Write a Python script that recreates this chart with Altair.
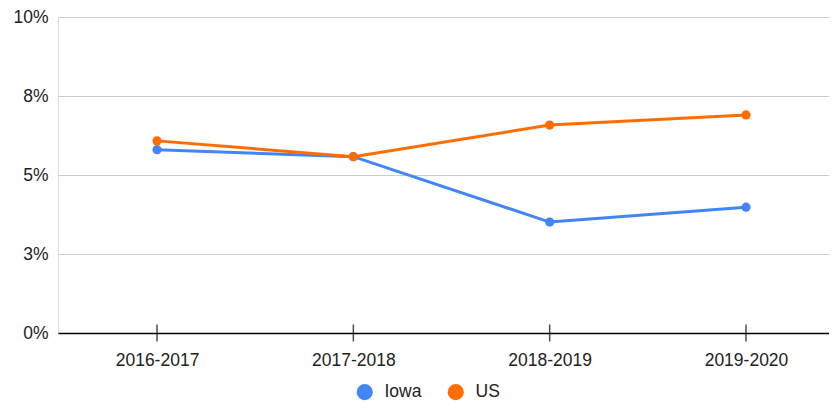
import altair as alt
import pandas as pd

years = ["2016-2017", "2017-2018", "2018-2019", "2019-2020"]
iowa = [5.80, 5.58, 3.51, 3.98]
us = [6.08, 5.58, 6.58, 6.90]
series = ["Iowa", "US"]
colors = ["#4285F4", "#FF6D01"]
y_ticks = [0, 2.5, 5, 7.5, 10]

rows = []
for name, vals in zip(series, [iowa, us]):
    for yr, v in zip(years, vals):
        rows.append({"year": yr, "series": name, "value": v})
df = pd.DataFrame(rows)
base_df = pd.DataFrame({"year": years, "value": [0] * len(years)})

FONT = "Liberation Sans"
FS = 17.5

x_scale = alt.Scale(type="point", padding=0.4636, align=0.544)
x_enc = alt.X(
    "year:O",
    sort=years,
    scale=x_scale,
    axis=alt.Axis(
        title=None, labelAngle=0, ticks=False, domainColor="#000000",
        domainWidth=1.5, labelPadding=18, labelFontSize=FS, labelColor="#222222",
        labelFont=FONT, grid=False,
    ),
)
y_scale = alt.Scale(domain=[0, 10], nice=False)
y_enc = alt.Y(
    "value:Q",
    scale=y_scale,
    axis=alt.Axis(
        title=None, values=y_ticks, ticks=False, domain=False,
        labelExpr="format(round(datum.value), 'd') + '%'",
        labelPadding=10, labelFontSize=FS, labelColor="#222222", labelFont=FONT,
        gridColor="#cccccc", gridWidth=1.2,
    ),
)
color_enc = alt.Color(
    "series:N",
    scale=alt.Scale(domain=series, range=colors),
    legend=alt.Legend(
        title=None, orient="none", legendX=298, legendY=366, direction="horizontal",
        columns=2, symbolType="circle", symbolSize=260, symbolStrokeWidth=0,
        labelFontSize=FS, labelColor="#222222", labelFont=FONT,
        labelOffset=11, columnPadding=25,
    ),
)

lines = alt.Chart(df).mark_line(strokeWidth=3).encode(
    x=x_enc, y=y_enc, color=color_enc,
)
points = alt.Chart(df).mark_point(filled=True, size=85, opacity=1, shape="circle").encode(
    x=x_enc, y=y_enc, color=color_enc,
)
ticks = alt.Chart(base_df).mark_tick(
    orient="vertical", size=17, thickness=1.5, color="#000000"
).encode(x=x_enc, y=y_enc)

chart = alt.layer(ticks, lines, points).properties(
    width=771, height=316,
    autosize=alt.AutoSizeParams(type="none"),
    padding={"left": 50, "top": 9, "right": 0, "bottom": 70},
).configure_view(stroke=None).configure(font=FONT)

chart.save("out.html", embed_options={"renderer": "svg", "actions": False})
